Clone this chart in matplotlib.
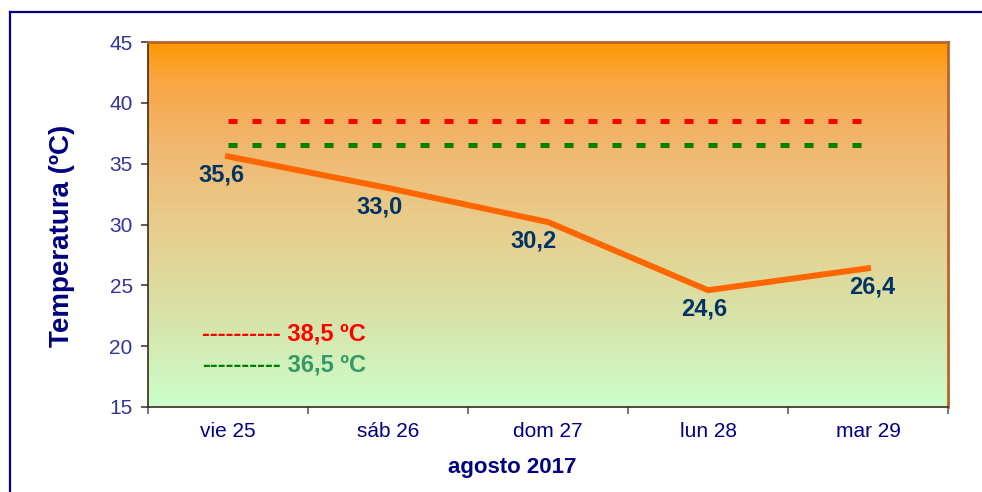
import numpy as np
import matplotlib
matplotlib.use("Agg")
import matplotlib.pyplot as plt
from matplotlib.colors import LinearSegmentedColormap

plt.rcParams['font.family'] = ['Liberation Sans', 'DejaVu Sans']
plt.rcParams['lines.scale_dashes'] = False

days = ['vie 25', 'sáb 26', 'dom 27', 'lun 28', 'mar 29']
temps = [35.6, 33.0, 30.2, 24.6, 26.4]
limit_red = [38.5, 38.5, 38.5, 38.5, 38.5]
limit_green = [36.5, 36.5, 36.5, 36.5, 36.5]
yticks = [15, 20, 25, 30, 35, 40, 45]

# small horizontal nudges of the value labels (pixels), as in the original
label_dx = [-7, -8, -14, -4, 4]

fig = plt.figure(figsize=(9.82, 4.92), dpi=100)
fig.patch.set_facecolor('white')
ax = fig.add_axes([148 / 982, 85 / 492, 800 / 982, 365 / 492])

x = np.arange(len(days))

# background gradient orange -> light green
grad = LinearSegmentedColormap.from_list('bg', [
    (0.0, (204/255, 255/255, 204/255)),
    (0.23, (215/255, 228/255, 170/255)),
    (0.5, (232/255, 205/255, 140/255)),
    (0.73, (242/255, 182/255, 110/255)),
    (0.9, (250/255, 165/255, 65/255)),
    (1.0, (255/255, 153/255, 0/255)),
])
ax.imshow(np.linspace(0, 1, 256).reshape(-1, 1), cmap=grad, origin='lower',
          extent=[-0.5, 4.5, 15, 45], aspect='auto', zorder=0)

ax.plot(x, limit_red, color='#FF0000', lw=3.6, dashes=(6.48, 10.8),
        solid_capstyle='butt', dash_capstyle='butt', zorder=2)
ax.plot(x, limit_green, color='#008000', lw=3.6, dashes=(6.48, 10.8),
        solid_capstyle='butt', dash_capstyle='butt', zorder=2)
ax.plot(x, temps, color='#FF6600', lw=4.3, solid_joinstyle='miter', zorder=3)

for xi, t, dx in zip(x, temps, label_dx):
    ax.annotate(f'{t:.1f}'.replace('.', ','), (xi, t), xytext=(dx, -19),
                textcoords='offset pixels', ha='center', va='center',
                fontsize=17, fontweight='bold', color='#003366', zorder=4)

ax.set_xlim(-0.5, 4.5)
ax.set_ylim(15, 45)
ax.set_yticks(yticks)
ax.set_xticks(x)
ax.set_xticklabels(days)
ax.set_xticks(np.arange(-0.5, 5.0, 1.0), minor=True)
ax.tick_params(axis='x', which='major', length=0, pad=11, labelsize=15,
               labelcolor='#000080')
ax.tick_params(axis='x', which='minor', length=5, width=1.2, color='#606060',
               direction='out')
ax.tick_params(axis='y', length=5, width=1.2, color='#404040', pad=6,
               labelsize=15, labelcolor='#333399', direction='out')

for s in ['left', 'bottom']:
    ax.spines[s].set_color('#3C2A1E')
    ax.spines[s].set_linewidth(1.2)
for s in ['top', 'right']:
    ax.spines[s].set_color('#B8642A')
    ax.spines[s].set_linewidth(2)

# legend-like notes inside the plot
ax.text(0.0675, 0.2, '---------- 38,5 ºC', transform=ax.transAxes,
        ha='left', va='center', fontsize=17, fontweight='bold', color='#FF0000')
t = ax.text(0.0675, 0.115, '----------', transform=ax.transAxes,
            ha='left', va='center', fontsize=17, fontweight='bold', color='#008000')
ax.annotate(' 36,5 ºC', xy=(1, 0.5), xycoords=t, ha='left', va='center',
            fontsize=17, fontweight='bold', color='#339966')

fig.text(62 / 982, 1 - 236 / 492, 'Temperatura (ºC)', rotation=90,
         ha='center', va='center', fontsize=20, fontweight='bold', color='#000080')
fig.text(512 / 982, 1 - 467 / 492, 'agosto 2017', ha='center', va='center',
         fontsize=16, fontweight='bold', color='#000080')

# outer chart border (cut off at right and bottom)
fig.add_artist(plt.Line2D([10 / 982, 1.01], [1 - 12 / 492, 1 - 12 / 492],
                          transform=fig.transFigure, color='#000080', lw=1.6))
fig.add_artist(plt.Line2D([10 / 982, 10 / 982], [1 - 12 / 492, -0.01],
                          transform=fig.transFigure, color='#000080', lw=1.6))

fig.savefig('out.png', dpi=100)
